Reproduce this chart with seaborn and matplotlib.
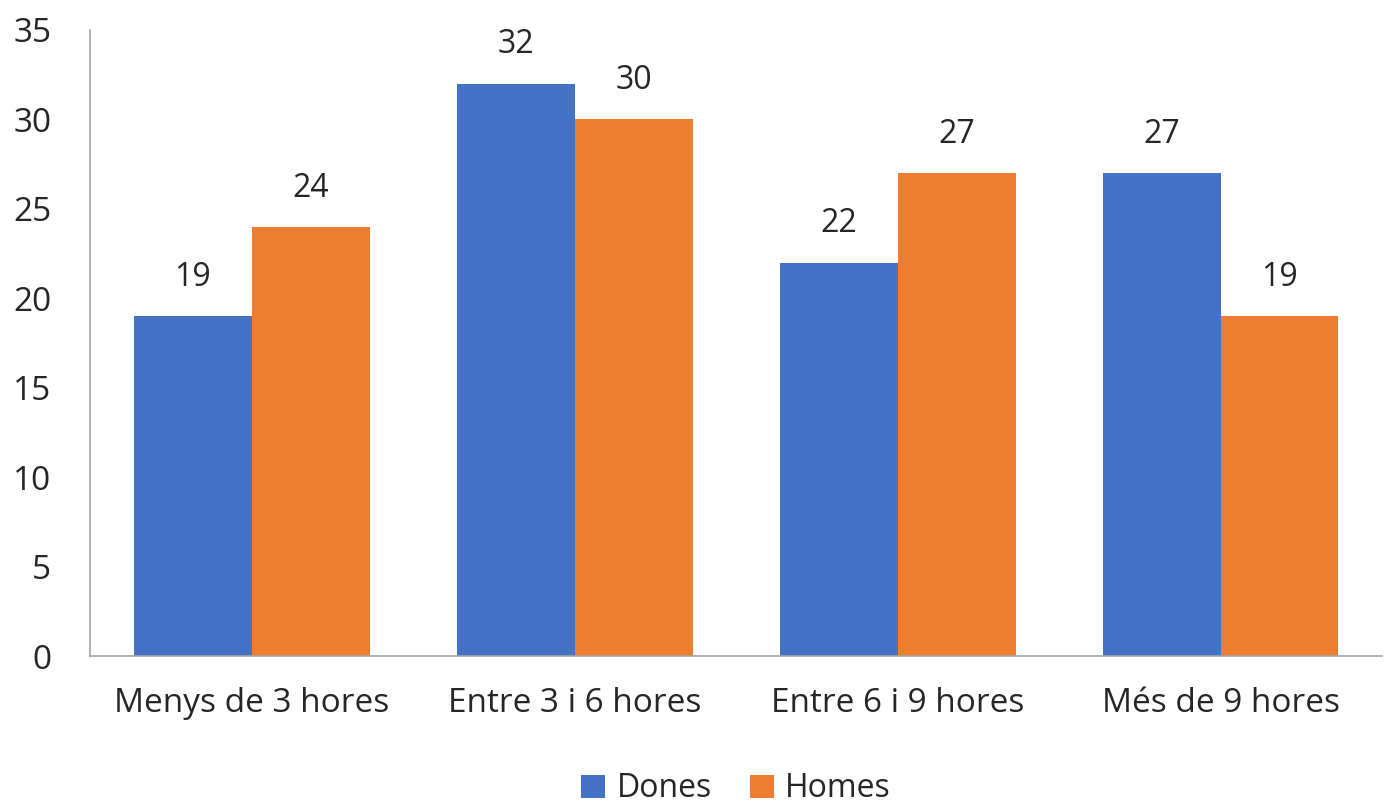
import pandas as pd
import matplotlib.pyplot as plt
import seaborn as sns

categories = ['Menys de 3 hores', 'Entre 3 i 6 hores', 'Entre 6 i 9 hores', 'Més de 9 hores']
dones = [19, 32, 22, 27]
homes = [24, 30, 27, 19]

df = pd.DataFrame({
    'Categoria': categories * 2,
    'Valor': dones + homes,
    'Grup': ['Dones'] * 4 + ['Homes'] * 4,
})

sns.set_style('white')
plt.rcParams['font.family'] = ['Open Sans', 'DejaVu Sans']

fig, ax = plt.subplots(figsize=(13.89, 8.10), dpi=100)
sns.barplot(data=df, x='Categoria', y='Valor', hue='Grup',
            palette=['#4472C4', '#ED7D31'], width=0.73, saturation=1,
            linewidth=0, ax=ax)

# value labels above each bar
for c in ax.containers:
    ax.bar_label(c, padding=16, fontsize=23, color='#262626')

ax.set_ylim(0, 35)
ax.set_yticks(range(0, 36, 5))
ax.set_xlabel('')
ax.set_ylabel('')
ax.tick_params(axis='both', labelsize=24, colors='#262626', length=0)
ax.tick_params(axis='x', pad=22)
ax.tick_params(axis='y', pad=28)
for s in ['top', 'right']:
    ax.spines[s].set_visible(False)
for s in ['left', 'bottom']:
    ax.spines[s].set_color('#A6A6A6')
    ax.spines[s].set_linewidth(1.2)

ax.legend(loc='upper center', bbox_to_anchor=(0.5, -0.15), ncol=2, frameon=False,
          fontsize=23, handlelength=0.75, handleheight=0.75, columnspacing=1.2,
          handletextpad=0.35, borderpad=0.2)

plt.subplots_adjust(left=0.065, right=0.995, top=0.963, bottom=0.19)
plt.savefig('out.png', dpi=100)
